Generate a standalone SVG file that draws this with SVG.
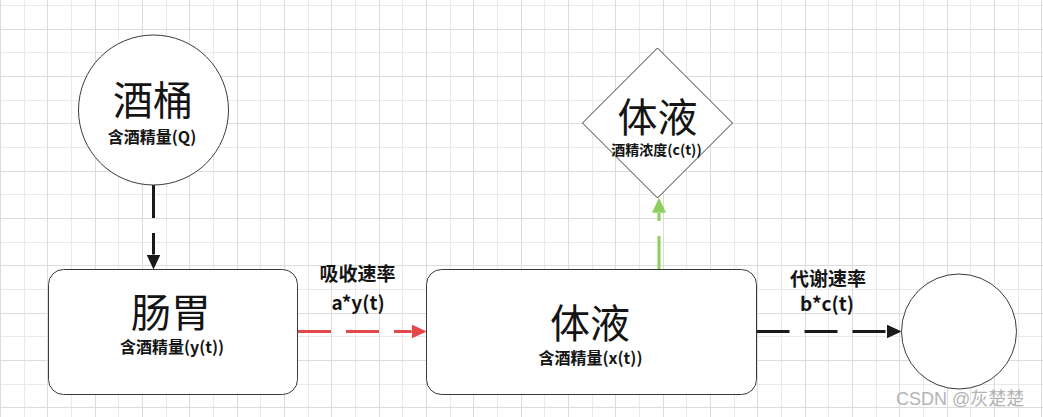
<svg xmlns="http://www.w3.org/2000/svg" width="1043" height="417" viewBox="0 0 1043 417">
  <style>
    .bg { fill: #ffffff; }
    .grid-a { stroke: #dcdcdc; stroke-width: 1; fill: none; }
    .grid-b { stroke: #e9e9e9; stroke-width: 1; fill: none; }
    .shape { fill: #ffffff; stroke: #3a3a3a; stroke-width: 1; }
    .t { font-family: "Noto Sans CJK SC", "Liberation Sans", sans-serif; fill: #141414; text-anchor: middle; }
    .big { font-size: 40px; font-weight: 400; }
    .sub { font-size: 16px; font-weight: 700; }
    .sub2 { font-size: 14px; font-weight: 700; }
    .lbl { font-size: 19px; font-weight: 700; }
    .wm { font-family: "Liberation Sans", "Noto Sans CJK SC", sans-serif; font-size: 18px; fill: #b4b4b4; }
    .edge { fill: none; stroke-width: 3; stroke-dasharray: 33 15; }
  </style>
  <defs>
    <marker id="hBlack" viewBox="0 0 15 14" refX="0" refY="7" markerWidth="15" markerHeight="14" markerUnits="userSpaceOnUse" orient="auto">
      <path d="M0,0 L15,7 L0,14 Z" fill="#1a1a1a"/>
    </marker>
    <marker id="hRed" viewBox="0 0 15 14" refX="0" refY="7" markerWidth="15" markerHeight="14" markerUnits="userSpaceOnUse" orient="auto">
      <path d="M0,0 L15,7 L0,14 Z" fill="#e5484b"/>
    </marker>
    <marker id="hGreen" viewBox="0 0 15 14" refX="0" refY="7" markerWidth="15" markerHeight="14" markerUnits="userSpaceOnUse" orient="auto">
      <path d="M0,0 L15,7 L0,14 Z" fill="#8ccf5c"/>
    </marker>
  </defs>

  <rect class="bg" x="0" y="0" width="1043" height="417"/>
  <g id="grid">
    <path class="grid-b" d="M24.5,0V417 M71.5,0V417 M118.5,0V417 M166.5,0V417 M213.5,0V417 M260.5,0V417 M308.5,0V417 M355.5,0V417 M402.5,0V417 M450.5,0V417 M497.5,0V417 M544.5,0V417 M592.5,0V417 M639.5,0V417 M686.5,0V417 M734.5,0V417 M781.5,0V417 M828.5,0V417 M876.5,0V417 M923.5,0V417 M970.5,0V417 M1018.5,0V417 M0,5.5H1043 M0,52.5H1043 M0,100.5H1043 M0,147.5H1043 M0,194.5H1043 M0,242.5H1043 M0,289.5H1043 M0,336.5H1043 M0,384.5H1043"/>
    <path class="grid-a" d="M0.5,0V417 M47.5,0V417 M95.5,0V417 M142.5,0V417 M189.5,0V417 M237.5,0V417 M284.5,0V417 M331.5,0V417 M379.5,0V417 M426.5,0V417 M473.5,0V417 M521.5,0V417 M568.5,0V417 M615.5,0V417 M663.5,0V417 M710.5,0V417 M757.5,0V417 M805.5,0V417 M852.5,0V417 M899.5,0V417 M947.5,0V417 M994.5,0V417 M1041.5,0V417 M0,29.5H1043 M0,76.5H1043 M0,123.5H1043 M0,171.5H1043 M0,218.5H1043 M0,265.5H1043 M0,313.5H1043 M0,360.5H1043 M0,407.5H1043"/>
  </g>

  <g id="connectors">
    <line class="edge" x1="153.5" y1="185" x2="153.5" y2="254.5" stroke="#1a1a1a" marker-end="url(#hBlack)"/>
    <line class="edge" x1="298" y1="331.5" x2="411.7" y2="331.5" stroke="#e5484b" marker-end="url(#hRed)"/>
    <line class="edge" x1="659" y1="269" x2="659" y2="212.7" stroke="#8ccf5c" marker-end="url(#hGreen)"/>
    <line class="edge" x1="756.5" y1="331.5" x2="886.6" y2="331.5" stroke="#1a1a1a" marker-end="url(#hBlack)"/>
    <text class="t lbl" x="357.5" y="281">吸收速率</text>
    <text class="t lbl" x="358" y="310">a*y(t)</text>
    <text class="t lbl" x="828" y="286">代谢速率</text>
    <text class="t lbl" x="827" y="311">b*c(t)</text>
  </g>

  <g id="node-barrel">
    <circle class="shape" cx="153.5" cy="110" r="75"/>
    <text class="t big" x="153" y="115">酒桶</text>
    <text class="t sub" x="152" y="143">含酒精量(Q)</text>
  </g>

  <g id="node-concentration">
    <path class="shape" d="M657.5,48 L732.5,123 L657.5,198 L582.5,123 Z" stroke="#222"/>
    <text class="t big" x="657.5" y="132">体液</text>
    <text class="t sub2" x="656.5" y="155">酒精浓度(c(t))</text>
  </g>

  <g id="node-stomach">
    <rect class="shape" x="48.5" y="269.5" width="249" height="125" rx="15" ry="15"/>
    <text class="t big" x="171" y="327">肠胃</text>
    <text class="t sub" x="172" y="353">含酒精量(y(t))</text>
  </g>

  <g id="node-bodyfluid">
    <rect class="shape" x="426.5" y="269.5" width="330" height="125" rx="15" ry="15"/>
    <text class="t big" x="590" y="338">体液</text>
    <text class="t sub" x="590.5" y="364">含酒精量(x(t))</text>
  </g>

  <g id="node-sink">
    <circle class="shape" cx="959" cy="331.5" r="57.5"/>
  </g>

  <text class="wm" x="896" y="405">CSDN @灰楚楚</text>
</svg>
